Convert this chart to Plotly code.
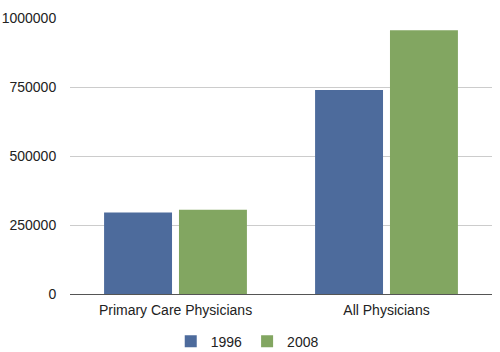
import plotly.graph_objects as go

categories = ["Primary Care Physicians", "All Physicians"]
series_names = ["1996", "2008"]
values_1996 = [295000, 739000]
values_2008 = [305000, 956000]
tick_vals = [0, 250000, 500000, 750000, 1000000]
tick_text = ["0", "250000", "500000", "750000", "1000000"]

colors = ["#4d6b9c", "#82a661"]

fig = go.Figure()
for name, vals, c in zip(series_names, [values_1996, values_2008], colors):
    fig.add_trace(go.Bar(x=categories, y=vals, name=name,
                         marker=dict(color=c, line=dict(width=0))))

fig.update_layout(
    width=500, height=352,
    margin=dict(l=70, r=8, t=18, b=58, autoexpand=False),
    paper_bgcolor="white", plot_bgcolor="white",
    barmode="group", bargap=0.29, bargroupgap=0.093,
    font=dict(family="Liberation Sans, Arial, sans-serif", size=14, color="#222"),
    showlegend=True,
    legend=dict(orientation="h", x=0.42, xanchor="center", y=-0.115, yanchor="top",
                font=dict(size=14), traceorder="normal", itemwidth=30),
)
fig.update_yaxes(range=[0, 1000000], tickvals=tick_vals, ticktext=tick_text,
                 showgrid=True, gridcolor="#cccccc", gridwidth=1,
                 zeroline=True, zerolinecolor="#555555", zerolinewidth=1,
                 ticks="outside", ticklen=10, tickcolor="rgba(0,0,0,0)", showline=False)
fig.update_xaxes(showline=False, ticks="outside", ticklen=3, tickcolor="rgba(0,0,0,0)",
                 showgrid=False)

fig.write_html("out.html")
